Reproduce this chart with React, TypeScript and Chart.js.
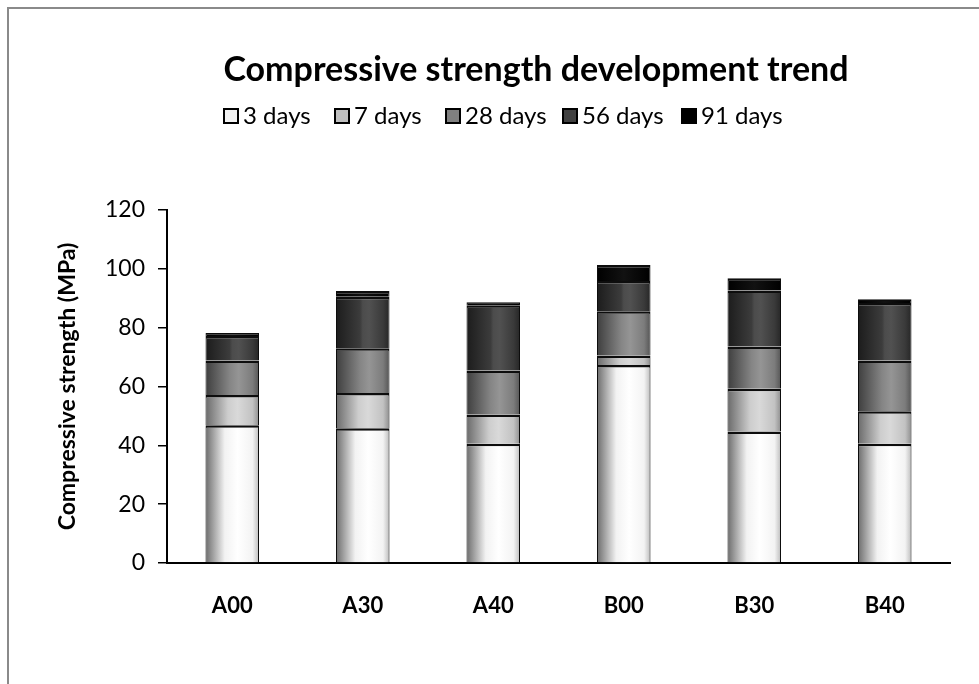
import React, { useEffect, useRef } from 'react';
import { Chart, registerables } from 'chart.js';

Chart.register(...registerables);

// Mixes and the strength gained in each curing interval (MPa), stacked per mix
const categories = ['A00', 'A30', 'A40', 'B00', 'B30', 'B40'];
const seriesLabels = ['3 days', '7 days', '28 days', '56 days', '91 days'];
const days3 = [46.8, 45.8, 40.5, 67.3, 44.7, 40.5];
const days7 = [10.3, 12.0, 10.0, 3.2, 14.5, 11.1];
const days28 = [11.7, 15.2, 14.9, 15.1, 14.4, 17.2];
const days56 = [8.4, 17.5, 22.2, 10.3, 19.0, 19.6];
const days91 = [1.0, 2.0, 1.0, 5.4, 4.2, 1.3];
const yTickStep = 20;
const yMax = 120;

const chartTitle = 'Compressive strength development trend';
const yAxisTitle = 'Compressive strength (MPa)';

const FONT = 'Lato, "Open Sans", sans-serif';
const BAR_PCT = 0.41;

// flat swatch colours (legend) and cylinder-like shading stops (bars)
const swatches = ['#f2f2f2', '#bfbfbf', '#808080', '#404040', '#000000'];
const shades: [number, string][][] = [
  [[0, '#6c6c6c'], [0.36, '#f2f2f2'], [0.6, '#ffffff'], [0.88, '#f3f3f3'], [1, '#bcbcbc']],
  [[0, '#6a6a6a'], [0.42, '#cdcdcd'], [0.6, '#d9d9d9'], [0.88, '#c2c2c2'], [1, '#8e8e8e']],
  [[0, '#3e3e3e'], [0.45, '#858585'], [0.62, '#959595'], [0.88, '#7c7c7c'], [1, '#555555']],
  [[0, '#1c1c1c'], [0.45, '#3c3c3c'], [0.5, '#4c4c4c'], [0.62, '#515151'], [0.88, '#3a3a3a'], [1, '#262626']],
  [[0, '#000000'], [0.5, '#121212'], [1, '#000000']],
];
const seriesValues = [days3, days7, days28, days56, days91];

const legendX = [224, 335, 446, 563, 682];

function shadedFill(seriesIndex: number) {
  return (c: any) => {
    if (c.type !== 'data') return swatches[seriesIndex];
    const chart = c.chart;
    const xs = chart.scales && chart.scales.x;
    if (!xs || !isFinite(xs.left) || !isFinite(xs.width)) return swatches[seriesIndex];
    const cx = xs.getPixelForValue(c.dataIndex);
    const w = (xs.width / categories.length) * BAR_PCT;
    const g = chart.ctx.createLinearGradient(cx - w / 2, 0, cx + w / 2, 0);
    shades[seriesIndex].forEach(([o, col]) => g.addColorStop(o, col));
    return g;
  };
}

const decor = {
  id: 'decor',
  beforeDraw(chart: any) {
    const { ctx, width, height } = chart;
    ctx.save();
    ctx.fillStyle = '#ffffff';
    ctx.fillRect(0, 0, width, height);
    ctx.strokeStyle = '#8a8a8a';
    ctx.lineWidth = 2;
    ctx.strokeRect(8, 8, width + 20, height + 20);
    ctx.restore();
  },
  afterDraw(chart: any) {
    const { ctx } = chart;
    ctx.save();
    ctx.fillStyle = '#000';
    ctx.textAlign = 'center';
    ctx.textBaseline = 'alphabetic';
    ctx.font = `bold 34px ${FONT}`;
    ctx.fillText(chartTitle, 536, 81);

    ctx.textAlign = 'left';
    ctx.font = `24px ${FONT}`;
    seriesLabels.forEach((label, i) => {
      const bx = legendX[i];
      ctx.fillStyle = swatches[i];
      ctx.fillRect(bx, 109, 14, 14);
      ctx.strokeStyle = '#000';
      ctx.lineWidth = 2;
      ctx.strokeRect(bx, 109, 14, 14);
      ctx.fillStyle = '#000';
      ctx.fillText(label, bx + 19, 124);
    });
    ctx.restore();
  },
};

export default function App() {
  const canvasRef = useRef<HTMLCanvasElement | null>(null);

  useEffect(() => {
    if (!canvasRef.current) return;
    Chart.defaults.font.family = FONT;
    const chart = new Chart(canvasRef.current, {
      type: 'bar',
      data: {
        labels: categories,
        datasets: seriesLabels.map((label, i) => ({
          label,
          data: seriesValues[i],
          backgroundColor: shadedFill(i),
          borderColor: '#0d0d0d',
          borderWidth: { top: 2.5, left: 1, right: 1, bottom: 0 },
          borderSkipped: false,
          categoryPercentage: 1,
          barPercentage: BAR_PCT,
        })),
      },
      options: {
        responsive: false,
        animation: false,
        devicePixelRatio: 1,
        layout: { padding: { left: 0, top: 210, right: 29, bottom: 0 } },
        plugins: {
          legend: { display: false },
          title: { display: false },
          tooltip: { enabled: false },
        },
        scales: {
          x: {
            stacked: true,
            grid: { display: false, drawTicks: false },
            border: { display: true, color: '#000', width: 2 },
            ticks: { color: '#000', font: { size: 22, weight: 'bold' }, padding: 30 },
            afterFit: (s: any) => { s.height = 121; },
          },
          y: {
            stacked: true,
            min: 0,
            max: yMax,
            ticks: { stepSize: yTickStep, color: '#000', font: { size: 23 }, padding: 13 },
            grid: { drawOnChartArea: false, drawTicks: true, tickLength: 9, color: '#000', lineWidth: 1.5 },
            border: { display: true, color: '#000', width: 2 },
            title: {
              display: true,
              text: yAxisTitle,
              color: '#000',
              font: { size: 23, weight: 'bold' },
              padding: { top: 54, bottom: 0 },
            },
            afterFit: (s: any) => { s.width = 167; },
          },
        },
      },
      plugins: [decor],
    });
    return () => chart.destroy();
  }, []);

  return (
    <div style={{ position: 'fixed', left: 0, top: 0, width: 979, height: 684 }}>
      <canvas ref={canvasRef} width={979} height={684} style={{ display: 'block' }} />
    </div>
  );
}
